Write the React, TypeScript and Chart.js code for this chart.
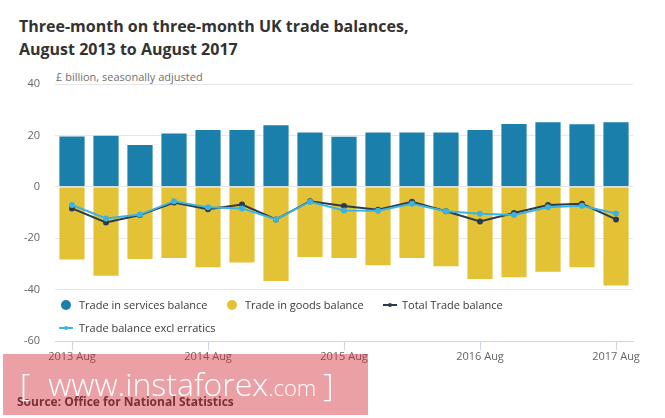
import { useEffect, useRef } from "react";
import { Chart, registerables } from "chart.js";

Chart.register(...registerables);

const categories = [
  "2013 Aug", "2013 Nov", "2014 Feb", "2014 May",
  "2014 Aug", "2014 Nov", "2015 Feb", "2015 May",
  "2015 Aug", "2015 Nov", "2016 Feb", "2016 May",
  "2016 Aug", "2016 Nov", "2017 Feb", "2017 May",
  "2017 Aug",
];

const servicesBalance = [20.0, 20.3, 16.7, 21.1, 22.5, 22.5, 24.3, 21.5, 19.9, 21.5, 21.5, 21.5, 22.5, 24.8, 25.5, 24.7, 25.5];
const goodsBalance = [-28.7, -35.0, -28.5, -28.1, -31.7, -29.8, -37.0, -27.7, -28.1, -30.9, -28.1, -31.3, -36.3, -35.6, -33.4, -31.7, -38.8];
const totalBalance = [-8.4, -13.9, -11.0, -6.1, -8.7, -6.9, -12.7, -5.6, -7.5, -8.9, -5.8, -9.5, -13.5, -10.2, -7.1, -6.6, -12.7];
const exclErratics = [-7.1, -12.3, -10.8, -5.6, -8.0, -8.4, -12.7, -5.8, -9.2, -9.3, -6.6, -9.5, -10.5, -11.0, -8.0, -7.4, -10.4];

const yTicks = [40, 20, 0, -20, -40, -60];

const BLUE = "#1a7fab";
const YELLOW = "#e4c235";
const DARK = "#2a3b4e";
const LIGHT = "#3cb4e2";
const FONT = "'Open Sans', 'DejaVu Sans', sans-serif";

function TrendChart() {
  const canvasRef = useRef<HTMLCanvasElement>(null);

  useEffect(() => {
    if (!canvasRef.current) return;
    const chart = new Chart(canvasRef.current, {
      type: "bar",
      data: {
        labels: categories,
        datasets: [
          {
            type: "line",
            label: "Trade balance excl erratics",
            data: exclErratics,
            borderColor: LIGHT,
            backgroundColor: LIGHT,
            borderWidth: 2,
            pointRadius: 2,
            pointHoverRadius: 2,
            tension: 0,
            order: 0,
          },
          {
            type: "line",
            label: "Total Trade balance",
            data: totalBalance,
            borderColor: DARK,
            backgroundColor: DARK,
            borderWidth: 2,
            pointRadius: 2,
            pointHoverRadius: 2,
            tension: 0,
            order: 1,
          },
          {
            label: "Trade in services balance",
            data: servicesBalance,
            backgroundColor: BLUE,
            borderColor: "rgba(255,255,255,0.5)",
            borderWidth: 1,
            categoryPercentage: 1,
            barPercentage: 0.8,
            order: 2,
          },
          {
            label: "Trade in goods balance",
            data: goodsBalance,
            backgroundColor: YELLOW,
            borderColor: "rgba(255,255,255,0.5)",
            borderWidth: 1,
            categoryPercentage: 1,
            barPercentage: 0.8,
            order: 3,
          },
        ],
      },
      options: {
        responsive: true,
        maintainAspectRatio: false,
        animation: false,
        layout: { padding: { left: 0, top: 84, right: 32, bottom: 47 } },
        plugins: {
          legend: { display: false },
          tooltip: { enabled: false },
        },
        scales: {
          x: {
            stacked: true,
            offset: true,
            afterFit: (scale: any) => {
              scale.height = 30;
            },
            grid: {
              offset: false,
              drawOnChartArea: false,
              drawTicks: true,
              tickLength: 9,
              color: (ctx: any) => (ctx.index % 4 === 0 ? "#ccd6eb" : "rgba(0,0,0,0)"),
            },
            border: { color: "#ccd6eb" },
            ticks: {
              autoSkip: false,
              maxRotation: 0,
              padding: 0,
              color: "#666666",
              font: { family: FONT, size: 11 },
              callback: (_v: any, i: number) => (i % 4 === 0 ? categories[i] : ""),
            },
          },
          y: {
            min: yTicks[yTicks.length - 1],
            max: yTicks[0],
            afterFit: (scale: any) => {
              scale.width = 55;
            },
            afterBuildTicks: (scale: any) => {
              scale.ticks = yTicks.map((v) => ({ value: v }));
            },
            grid: { color: "#e6e6e6", drawTicks: false },
            border: { display: false },
            ticks: {
              padding: 15,
              color: "#666666",
              font: { family: FONT, size: 11 },
            },
          },
        },
      },
    });
    return () => chart.destroy();
  }, []);

  return (
    <div style={{ position: "absolute", left: 0, top: 0, width: 665, height: 418 }}>
      <canvas ref={canvasRef} role="img" aria-label="UK trade balances chart" />
    </div>
  );
}

function Dot({ color, x, y }: { color: string; x: number; y: number }) {
  return (
    <span
      style={{
        position: "absolute",
        left: x - 5,
        top: y - 5,
        width: 10,
        height: 10,
        borderRadius: "50%",
        background: color,
      }}
    />
  );
}

function LineMark({ color, x, y }: { color: string; x: number; y: number }) {
  return (
    <>
      <span style={{ position: "absolute", left: x, top: y - 1, width: 14, height: 2, background: color }} />
      <span
        style={{
          position: "absolute",
          left: x + 5,
          top: y - 2,
          width: 4,
          height: 4,
          borderRadius: "50%",
          background: color,
        }}
      />
    </>
  );
}

function LegendText({ text, x, y }: { text: string; x: number; y: number }) {
  return (
    <span
      style={{
        position: "absolute",
        left: x,
        top: y - 8,
        fontSize: 11,
        lineHeight: "16px",
        color: "#3a3a3a",
        whiteSpace: "nowrap",
      }}
    >
      {text}
    </span>
  );
}

export default function App() {
  return (
    <div
      style={{
        position: "absolute",
        left: 0,
        top: 0,
        width: 665,
        height: 418,
        background: "#ffffff",
        fontFamily: FONT,
        overflow: "hidden",
      }}
    >
      <div
        style={{
          position: "absolute",
          left: 19,
          top: 15,
          fontSize: 16,
          lineHeight: "23px",
          fontWeight: 700,
          color: "#333333",
          whiteSpace: "nowrap",
        }}
      >
        Three-month on three-month UK trade balances,
        <br />
        August 2013 to August 2017
      </div>
      <div
        style={{
          position: "absolute",
          left: 56,
          top: 70,
          fontSize: 11,
          lineHeight: "14px",
          color: "#707070",
          whiteSpace: "nowrap",
        }}
      >
        £ billion, seasonally adjusted
      </div>
      <TrendChart />
      <Dot color={BLUE} x={66} y={305} />
      <LegendText text="Trade in services balance" x={79} y={305} />
      <Dot color={YELLOW} x={232} y={305} />
      <LegendText text="Trade in goods balance" x={245} y={305} />
      <LineMark color={DARK} x={383} y={305} />
      <LegendText text="Total Trade balance" x={402} y={305} />
      <LineMark color={LIGHT} x={59} y={328} />
      <LegendText text="Trade balance excl erratics" x={79} y={328} />
      <div
        style={{
          position: "absolute",
          left: 17,
          top: 394,
          fontSize: 12,
          lineHeight: "16px",
          fontWeight: 700,
          color: "#333333",
          whiteSpace: "nowrap",
        }}
      >
        Source: Office for National Statistics
      </div>
      <div
        style={{
          position: "absolute",
          left: 3,
          top: 354,
          width: 365,
          height: 61,
          background: "rgba(210,45,55,0.45)",
        }}
      />
      <div
        style={{
          position: "absolute",
          left: 20,
          top: 368,
          display: "flex",
          alignItems: "baseline",
          color: "#ffffff",
          fontWeight: 300,
          lineHeight: "32px",
          whiteSpace: "nowrap",
        }}
      >
        <span style={{ fontSize: 32 }}>[</span>
        <span style={{ fontSize: 32, marginLeft: 18 }}>www.instaforex</span>
        <span style={{ fontSize: 22 }}>.com</span>
        <span style={{ fontSize: 32, marginLeft: 7 }}>]</span>
      </div>
    </div>
  );
}
